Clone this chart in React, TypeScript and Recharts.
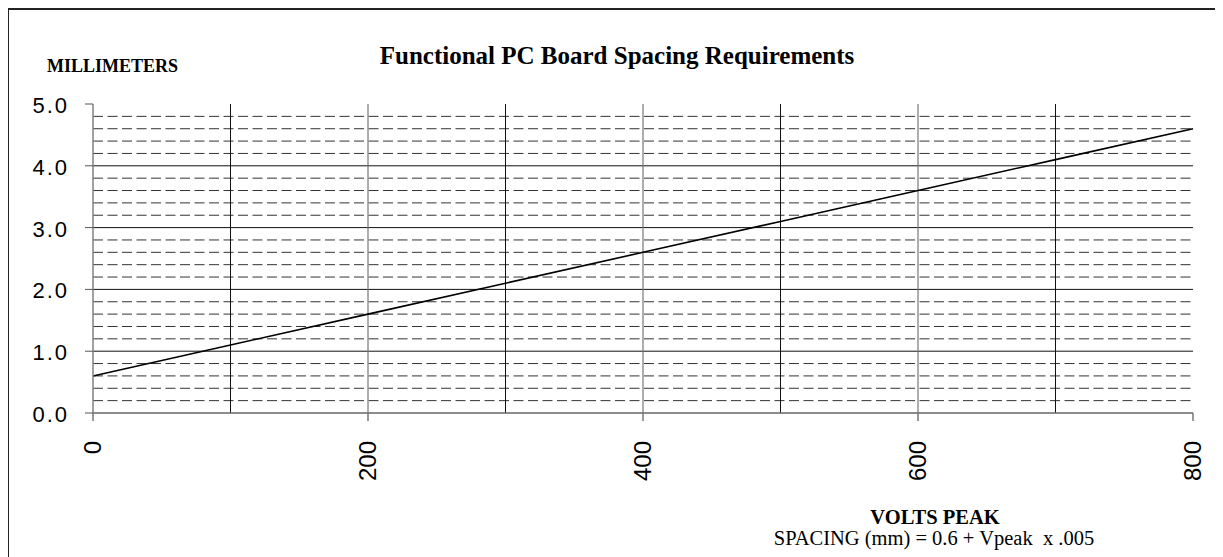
import { LineChart, Line, XAxis, YAxis, ReferenceLine } from 'recharts';

// SPACING (mm) = 0.6 + Vpeak x .005
const volts = [0, 100, 200, 300, 400, 500, 600, 700, 800];
const spacing = [0.6, 1.1, 1.6, 2.1, 2.6, 3.1, 3.6, 4.1, 4.6];

const xTicks = [0, 200, 400, 600, 800];
const yTicks = [0, 1, 2, 3, 4, 5];
const majorRows = [1, 2, 3, 4];
const minorRows = [
  0.2, 0.4, 0.6, 0.8, 1.2, 1.4, 1.6, 1.8, 2.2, 2.4, 2.6, 2.8,
  3.2, 3.4, 3.6, 3.8, 4.2, 4.4, 4.6, 4.8,
];
const darkCols = [100, 300, 500, 700];
const lightCols = [200, 400, 600];

const data = volts.map((v, i) => ({ volts: v, mm: spacing[i] }));

const W = 1216;
const H = 549;
const PLOT_BOTTOM = 405;

const SANS = '"Liberation Sans", Arial, sans-serif';
const SERIF = '"Liberation Serif", "Times New Roman", serif';

const XTick = (props: any) => {
  const { x, payload } = props;
  return (
    <text
      transform={`translate(${x + 8}, ${PLOT_BOTTOM + 28}) rotate(-90)`}
      textAnchor="end"
      fontFamily={SANS}
      fontSize={24}
      fill="#000"
    >
      {payload.value}
    </text>
  );
};

const YTick = (props: any) => {
  const { y, payload } = props;
  return (
    <text
      x={62}
      y={y + 9}
      textAnchor="end"
      fontFamily={SANS}
      fontSize={22}
      letterSpacing={2}
      fill="#000"
    >
      {Number(payload.value).toFixed(1)}
    </text>
  );
};

export default function App() {
  return (
    <div
      style={{
        position: 'relative',
        width: W,
        height: H,
        marginLeft: -1,
        overflow: 'hidden',
        background: '#fff',
      }}
    >
      {/* 외곽 테두리 (오른쪽/아래는 화면 밖) */}
      <div
        style={{
          position: 'absolute',
          left: 0,
          top: 0,
          width: W + 50,
          height: H + 50,
          borderLeft: '2px solid #222',
          borderTop: '2px solid #222',
        }}
      />
      <div style={{ position: 'absolute', left: 0, top: 0 }}>
        <LineChart
          width={W}
          height={H}
          data={data}
          margin={{ top: 96, right: 30, left: 6, bottom: 44 }}
        >
          <XAxis
            dataKey="volts"
            type="number"
            domain={[0, 800]}
            ticks={xTicks}
            tick={<XTick />}
            tickSize={8}
            tickMargin={0}
            height={100}
            axisLine={{ stroke: '#666', strokeWidth: 1.5 }}
            tickLine={{ stroke: '#777', strokeWidth: 1.5 }}
            interval={0}
          />
          <YAxis
            type="number"
            domain={[0, 5]}
            ticks={yTicks}
            tick={<YTick />}
            tickSize={8}
            width={80}
            axisLine={{ stroke: '#808080', strokeWidth: 1.5 }}
            tickLine={{ stroke: '#555', strokeWidth: 1 }}
            interval={0}
          />
          {minorRows.map((v) => (
            <ReferenceLine
              key={`minor-${v}`}
              y={v}
              stroke="#333"
              strokeWidth={1}
              strokeDasharray="10 4.5"
            />
          ))}
          {majorRows.map((v) => (
            <ReferenceLine key={`major-${v}`} y={v} stroke="#111" strokeWidth={1} />
          ))}
          {darkCols.map((v) => (
            <ReferenceLine key={`dcol-${v}`} x={v} stroke="#111" strokeWidth={1} />
          ))}
          {lightCols.map((v) => (
            <ReferenceLine key={`lcol-${v}`} x={v} stroke="#777" strokeWidth={1.2} />
          ))}
          <Line
            type="linear"
            dataKey="mm"
            stroke="#000"
            strokeWidth={1.6}
            dot={false}
            isAnimationActive={false}
          />
        </LineChart>
      </div>
      {/* 제목 및 축 설명 텍스트 */}
      <svg
        width={W}
        height={H}
        style={{ position: 'absolute', left: 0, top: 0, pointerEvents: 'none' }}
      >
        <text
          x={610}
          y={56}
          textAnchor="middle"
          fontFamily={SERIF}
          fontWeight="bold"
          fontSize={25}
          fill="#000"
        >
          Functional PC Board Spacing Requirements
        </text>
        <text
          x={40}
          y={64}
          fontFamily={SERIF}
          fontWeight="bold"
          fontSize={18}
          fill="#000"
        >
          MILLIMETERS
        </text>
        <text
          x={928}
          y={516}
          textAnchor="middle"
          fontFamily={SERIF}
          fontWeight="bold"
          fontSize={20.5}
          fill="#000"
        >
          VOLTS PEAK
        </text>
        <text
          x={927}
          y={537}
          textAnchor="middle"
          fontFamily={SERIF}
          fontSize={20.5}
          fill="#000"
          style={{ whiteSpace: 'pre' }}
        >
          SPACING (mm) = 0.6 + Vpeak  x .005
        </text>
      </svg>
    </div>
  );
}
